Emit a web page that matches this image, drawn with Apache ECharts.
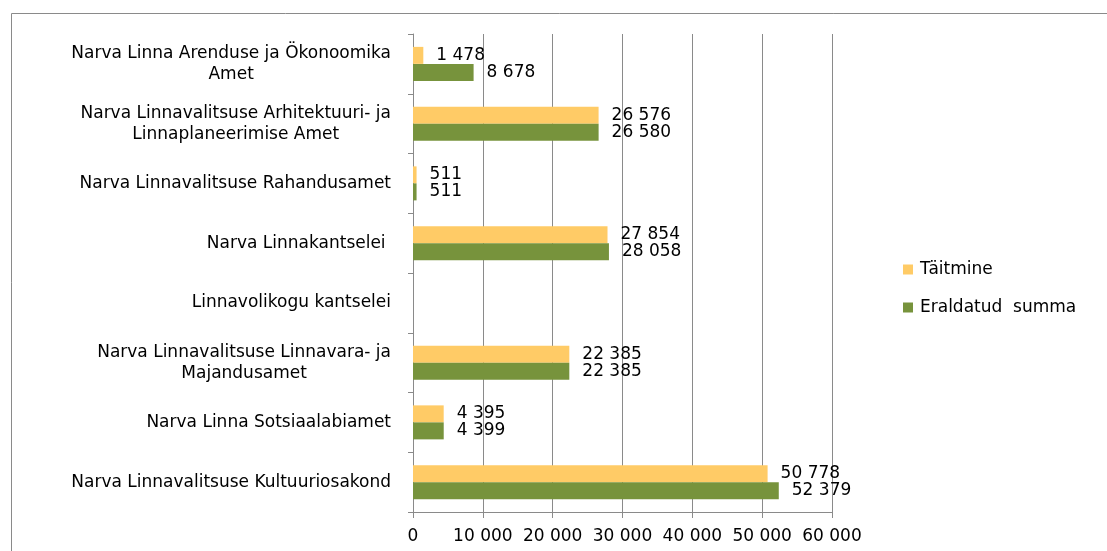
<!DOCTYPE html>
<html>
<head>
<meta charset="utf-8">
<script src="https://cdn.jsdelivr.net/npm/echarts@6/dist/echarts.min.js"></script>
<style>
html,body{margin:0;padding:0;background:#fff;}
#chart{width:1107px;height:551px;}
</style>
</head>
<body>
<div id="chart"></div>
<script>
// Categories listed bottom to top (ECharts category y-axis order)
const categories = [
  'Narva Linnavalitsuse Kultuuriosakond',
  'Narva Linna Sotsiaalabiamet',
  'Narva Linnavalitsuse Linnavara- ja\nMajandusamet',
  'Linnavolikogu kantselei',
  'Narva Linnakantselei ',
  'Narva Linnavalitsuse Rahandusamet',
  'Narva Linnavalitsuse Arhitektuuri- ja\nLinnaplaneerimise Amet',
  'Narva Linna Arenduse ja Ökonoomika\nAmet'
];
const taitmine = [50778, 4395, 22385, null, 27854, 511, 26576, 1478];
const eraldatud = [52379, 4399, 22385, null, 28058, 511, 26580, 8678];
const seriesNames = ['Täitmine', 'Eraldatud  summa'];
const xTicks = [0, 10000, 20000, 30000, 40000, 50000, 60000];

const FONT = 'DejaVu Sans';
const fmt = v => String(v).replace(/\B(?=(\d{3})+(?!\d))/g, ' ');

const chart = echarts.init(document.getElementById('chart'), null, {renderer: 'canvas'});
const labelStyle = {
  show: true,
  position: 'right',
  distance: 13,
  color: '#000',
  fontFamily: FONT,
  fontSize: 17,
  formatter: p => fmt(p.value)
};
chart.setOption({
  animation: false,
  backgroundColor: '#fff',
  graphic: [{
    type: 'rect',
    shape: {x: 11.5, y: 13.5, width: 1200, height: 700},
    style: {fill: 'none', stroke: '#8a8a8a', lineWidth: 1},
    silent: true,
    z: -1
  }],
  grid: {left: 413, right: 275, top: 34, bottom: 39, containLabel: false},
  legend: {
    orient: 'vertical',
    left: 903,
    top: 261,
    padding: 0,
    itemWidth: 10,
    itemHeight: 10,
    itemGap: 21,
    icon: 'rect',
    data: seriesNames,
    textStyle: {fontFamily: FONT, fontSize: 17, color: '#000', padding: [0, 0, 0, 2]}
  },
  xAxis: {
    type: 'value',
    min: xTicks[0],
    max: xTicks[xTicks.length - 1],
    interval: xTicks[1] - xTicks[0],
    axisLine: {show: true, lineStyle: {color: '#8a8a8a', width: 1}},
    axisTick: {show: true, length: 6, lineStyle: {color: '#8a8a8a'}},
    splitLine: {show: true, lineStyle: {color: '#8a8a8a', width: 1}},
    axisLabel: {
      color: '#000', fontFamily: FONT, fontSize: 17, margin: 16,
      formatter: v => fmt(v)
    }
  },
  yAxis: {
    type: 'category',
    data: categories,
    axisLine: {show: true, lineStyle: {color: '#8a8a8a', width: 1}},
    axisTick: {show: true, length: 5, lineStyle: {color: '#8a8a8a'}},
    splitLine: {show: false},
    axisLabel: {
      color: '#000', fontFamily: FONT, fontSize: 17, margin: 22, lineHeight: 21,
      formatter: v => v.split('\n').map(s => '{c|' + s + '}').join('\n'),
      rich: {c: {align: 'center', fontFamily: FONT, fontSize: 17, color: '#000', lineHeight: 21}}
    }
  },
  series: [
    {
      name: seriesNames[0], type: 'bar', data: taitmine,
      barWidth: 17, barGap: '0%',
      itemStyle: {color: '#FFCB66'},
      label: labelStyle
    },
    {
      name: seriesNames[1], type: 'bar', data: eraldatud,
      barWidth: 17, barGap: '0%',
      itemStyle: {color: '#77933C'},
      label: labelStyle
    }
  ]
});
</script>
</body>
</html>
